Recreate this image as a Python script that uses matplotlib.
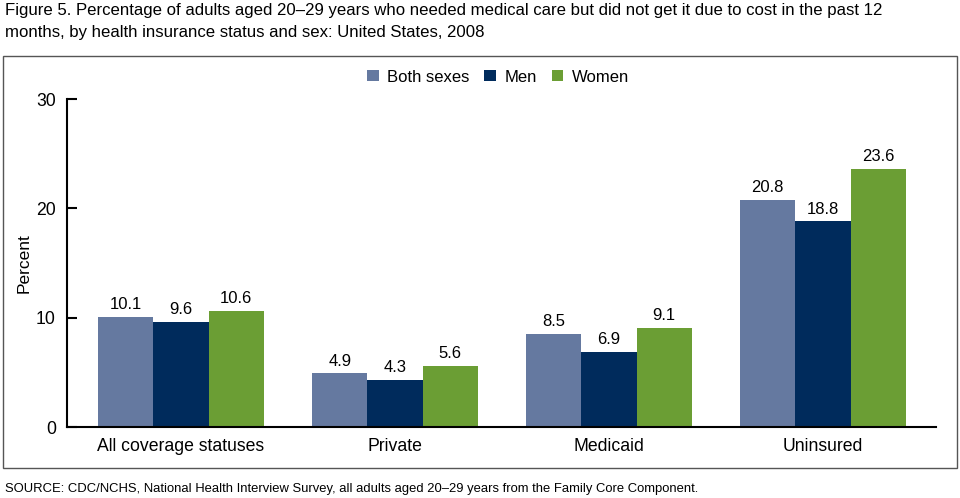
import matplotlib.pyplot as plt
import numpy as np
from matplotlib.patches import Rectangle

plt.rcParams['font.family'] = ['Liberation Sans', 'DejaVu Sans']

categories = ['All coverage statuses', 'Private', 'Medicaid', 'Uninsured']
series = ['Both sexes', 'Men', 'Women']
both = [10.1, 4.9, 8.5, 20.8]
men = [9.6, 4.3, 6.9, 18.8]
women = [10.6, 5.6, 9.1, 23.6]
colors = ['#6579a0', '#002b5c', '#6b9e34']

fig = plt.figure(figsize=(9.6, 4.98), dpi=100)
ax = fig.add_axes([67/960, 1-427/498, (936-67)/960, (427-99)/498])

x = np.arange(len(categories))
w = 0.258
for i, (vals, name, c) in enumerate(zip([both, men, women], series, colors)):
    bars = ax.bar(x + (i-1)*w, vals, w, color=c, label=name)
    for b, v in zip(bars, vals):
        ax.text(b.get_x() + b.get_width()/2, v + 0.45, f'{v:.1f}',
                ha='center', va='bottom', fontsize=12)

ax.set_xlim(-0.533, 3.528)
ax.set_ylim(0, 30)
ax.set_yticks([0, 10, 20, 30])
ax.set_xticks(x)
ax.set_xticklabels(categories, fontsize=12.7)
ax.tick_params(axis='y', direction='in', length=7, width=1.5, labelsize=12.7, pad=8)
ax.tick_params(axis='x', length=0, pad=8)
ax.spines['top'].set_visible(False)
ax.spines['right'].set_visible(False)
ax.spines['left'].set_linewidth(1.5)
ax.spines['bottom'].set_linewidth(1.5)
ax.set_ylabel('Percent', fontsize=12.5, labelpad=3)

fig.legend(loc='center', bbox_to_anchor=(498/960, 1-77/498), ncol=3, frameon=False,
           fontsize=12, handlelength=0.7, handleheight=0.7, handletextpad=0.5,
           columnspacing=0.9)

fig.patches.append(Rectangle((3/960, 1-468/498), 954/960, 412/498,
                             transform=fig.transFigure, fill=False,
                             edgecolor='#555555', linewidth=1))

fig.text(5/960, 1-3/498, 'Figure 5. Percentage of adults aged 20\u201329 years who needed medical care but did not get it due to cost in the past 12\nmonths, by health insurance status and sex: United States, 2008',
         ha='left', va='top', fontsize=12.1, linespacing=1.6)
fig.text(5/960, 1-489/498, 'SOURCE: CDC/NCHS, National Health Interview Survey, all adults aged 20\u201329 years from the Family Core Component.',
         ha='left', va='center', fontsize=9.4)

fig.savefig('out.png', dpi=100)
